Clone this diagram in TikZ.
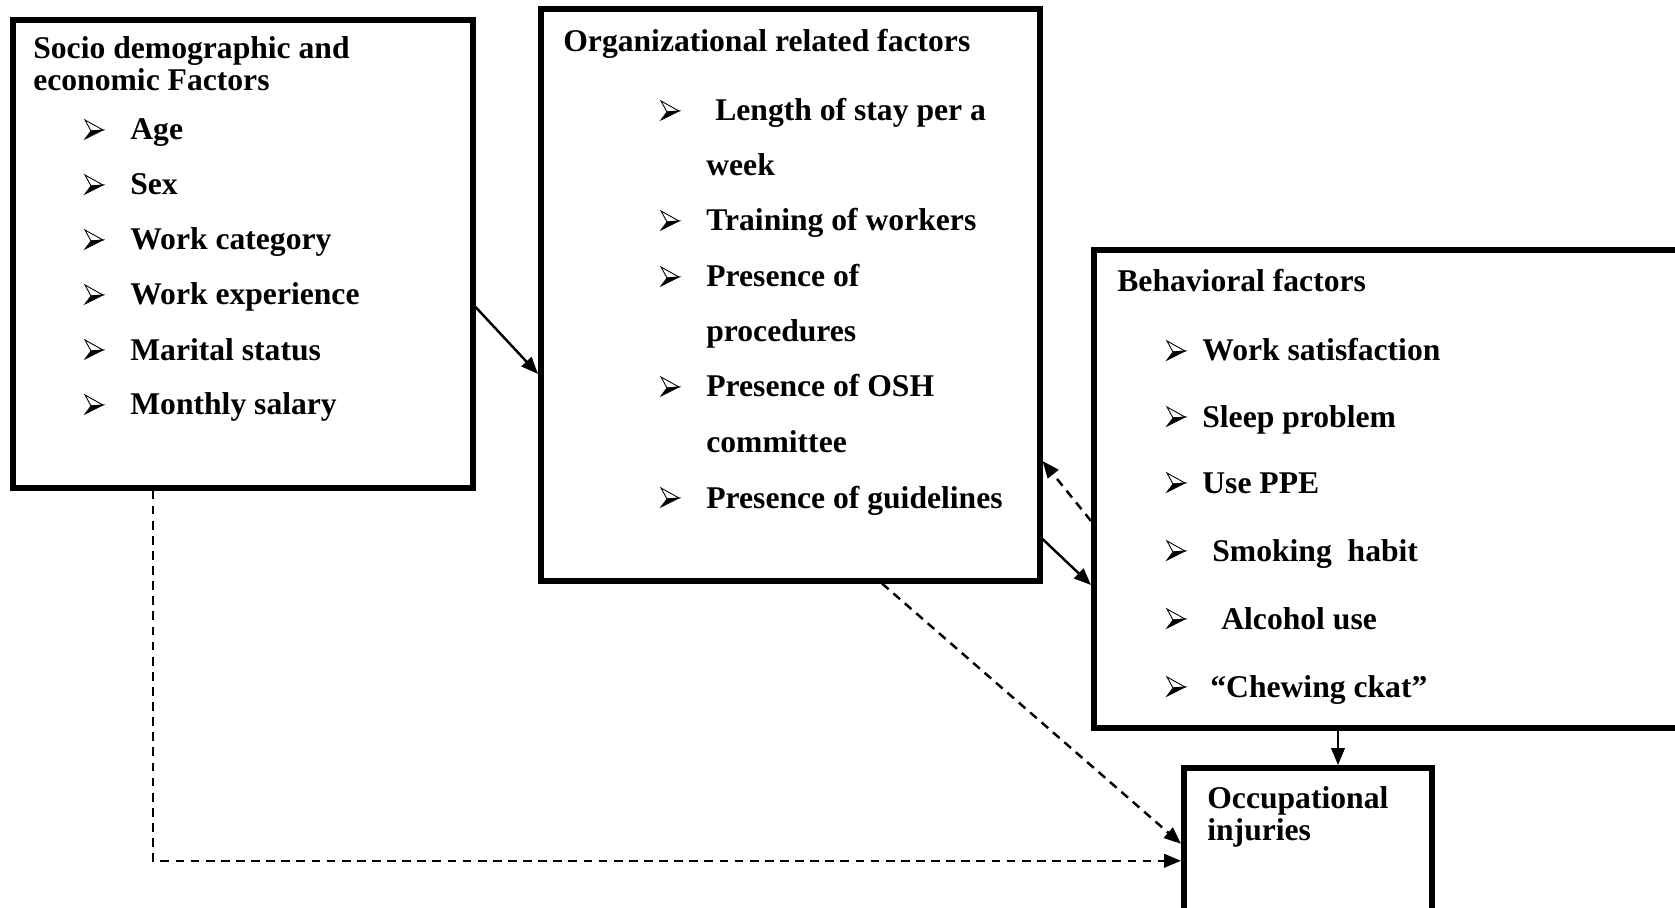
\documentclass[tikz,border=0pt]{standalone}
\usepackage{fontspec}
\setmainfont{Liberation Serif}
\usetikzlibrary{arrows.meta,calc}
\tikzset{
  box/.style={draw,line width=3.2pt,anchor=north west,inner sep=0pt},
  txt/.style={anchor=base west,inner sep=0pt,font=\bfseries\fontsize{18}{20}\selectfont},
  link/.style={line width=1.4pt,-{Triangle[length=0.34cm,width=0.27cm]}},
  dlink/.style={link,dash pattern=on 5pt off 3.6pt},
  arrowbul/.pic={
    \filldraw[fill=white,line width=0.5pt,line join=miter] (0,-20) -- (18,-10) -- (6,-9) -- cycle;
    \filldraw[line width=0.5pt,line join=miter] (0,-1) -- (18,-10) -- (6,-9) -- cycle;
  }
}
\begin{document}
\begin{tikzpicture}[x=0.02cm,y=-0.02cm]
  \clip (0,0) rectangle (1675,908);
  \node[box,minimum width=9.2cm,minimum height=9.36cm] (socio) at (10,17) {};
  \node[box,minimum width=9.98cm,minimum height=11.44cm] (org) at (538,6) {};
  \node[box,minimum width=12.4cm,minimum height=9.56cm] (beh) at (1091,247) {};
  \node[box,minimum width=4.96cm,minimum height=3.72cm] (occ) at (1181,765) {};

  \node[txt] (sociotitle) at (33,59) {Socio demographic and};
  \node[txt] (sociotitleb) at (33,91) {economic Factors};
  \foreach \t [count=\i] in {Age,Sex,Work category,Work experience,Marital status,Monthly salary}{
    \pic at (85,{85+55*\i}) {arrowbul};
    \node[txt] (sitem\i) at (130,{85+55*\i}) {\t};
  }

  \node[txt] (orgtitle) at (563,52) {Organizational related factors};
  \foreach \y in {121,231,287,397,508}
    \pic at (661,\y) {arrowbul};
  \foreach \y/\t [count=\i] in {121/{\hspace{0.18cm}Length of stay per a},176/week,231/Training of workers,
      287/Presence of,342/procedures,397/Presence of OSH,452/committee,508/Presence of guidelines}
    \node[txt] (oline\i) at (706,\y) {\t};

  \node[txt] (behtitle) at (1117,292) {Behavioral factors};
  \foreach \y/\x/\t [count=\i] in {361/1202/Work satisfaction,427/1202/Sleep problem,493/1202/Use PPE,
      561/1212/Smoking\ \ habit,629/1221/Alcohol use,697/1210/“Chewing ckat”}{
    \pic at (1167,\y) {arrowbul};
    \node[txt] (bitem\i) at (\x,\y) {\t};
  }

  \node[txt] (occtitle) at (1207,808) {Occupational};
  \node[txt] (occtitleb) at (1207,840) {injuries};

  \draw[link] ($(socio.north east)+(0,290)$) -- ($(org.north west)+(0,368)$);
  \draw[dlink] ($(socio.south west)+(143,0)$) |- (occ.west);
  \draw[dlink] ($(org.south west)+(344,0)$) -- ($(occ.west)+(0,-17)$);
  \draw[dlink] ($(beh.north west)+(0,274)$) -- ($(org.north east)+(0,455)$);
  \draw[link] ($(org.north east)+(0,533)$) -- ($(beh.north west)+(0,338)$);
  \draw[link] ($(beh.south west)+(247,0)$) -- ($(occ.north west)+(157,0)$);
\end{tikzpicture}
\end{document}
